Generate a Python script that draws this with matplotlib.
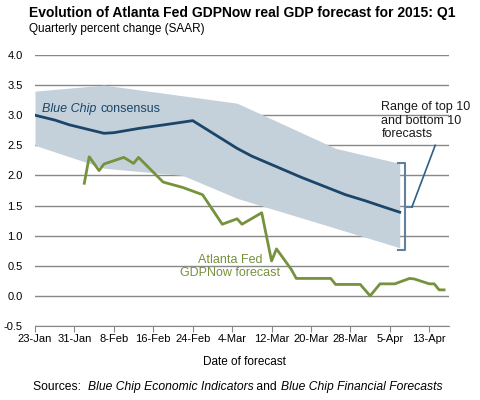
import numpy as np
import pandas as pd
import matplotlib
matplotlib.use("Agg")
import matplotlib.pyplot as plt
import matplotlib.dates as mdates

plt.rcParams['font.family'] = ['Liberation Sans', 'DejaVu Sans']

# Blue Chip consensus (daily path)
bc_dates = ["2015-01-23", "2015-01-27", "2015-01-30", "2015-02-03", "2015-02-06", "2015-02-08",
            "2015-02-13", "2015-02-19", "2015-02-24", "2015-03-05", "2015-03-08", "2015-03-18",
            "2015-03-27", "2015-03-31", "2015-04-04", "2015-04-07"]
bc_values = [3.0, 2.92, 2.84, 2.76, 2.70, 2.71, 2.78, 2.85, 2.91, 2.45, 2.32, 1.97, 1.68, 1.58, 1.47, 1.39]

# top 10 / bottom 10 range
band_top_dates = ["2015-01-23", "2015-02-06", "2015-03-05", "2015-03-25", "2015-04-07"]
band_top = [3.4, 3.5, 3.2, 2.45, 2.2]
band_bot_dates = ["2015-01-23", "2015-02-06", "2015-02-22", "2015-03-05", "2015-04-07"]
band_bot = [2.5, 2.12, 2.0, 1.62, 0.8]

# Atlanta Fed GDPNow
gn_dates = ["2015-02-02", "2015-02-03", "2015-02-05", "2015-02-06", "2015-02-10", "2015-02-12",
            "2015-02-13", "2015-02-18", "2015-02-22", "2015-02-26", "2015-03-02", "2015-03-05",
            "2015-03-06", "2015-03-10", "2015-03-12", "2015-03-13", "2015-03-16", "2015-03-17",
            "2015-03-24", "2015-03-25", "2015-03-30", "2015-04-01", "2015-04-03", "2015-04-06",
            "2015-04-09", "2015-04-10", "2015-04-13", "2015-04-14", "2015-04-15", "2015-04-16"]
gn_values = [1.87, 2.31, 2.08, 2.19, 2.3, 2.2, 2.3, 1.89, 1.8, 1.68, 1.19, 1.28, 1.19, 1.38,
             0.58, 0.78, 0.44, 0.29, 0.29, 0.19, 0.19, 0.0, 0.2, 0.2, 0.29, 0.28, 0.2, 0.2, 0.1, 0.1]

tick_dates = pd.date_range("2015-01-23", "2015-04-13", freq="8D")
y_ticks = np.arange(-0.5, 4.01, 0.5)

bc_x = pd.to_datetime(bc_dates)
gn_x = pd.to_datetime(gn_dates)
top_x = pd.to_datetime(band_top_dates)
bot_x = pd.to_datetime(band_bot_dates)

# common x grid for the band
grid = pd.date_range("2015-01-23", "2015-04-07", freq="D")
gnum = mdates.date2num(grid)
upper = np.interp(gnum, mdates.date2num(top_x), band_top)
lower = np.interp(gnum, mdates.date2num(bot_x), band_bot)

navy = "#1b4569"
green = "#76923c"
gridc = "#888888"

fig = plt.figure(figsize=(4.8, 4.0), dpi=100)
ax = fig.add_axes([35/480, 1-326/400, (449-35)/480, (326-55)/400])

ax.fill_between(grid, lower, upper, color="#c4d1da", lw=0, zorder=1)
for yv in y_ticks:
    ax.axhline(yv, color=gridc, lw=1.0, zorder=0.5)
ax.plot(bc_x, bc_values, color=navy, lw=2, zorder=3)
ax.plot(gn_x, gn_values, color=green, lw=2, zorder=3)

# bracket for range
d = lambda s: mdates.date2num(pd.Timestamp(s))
bx = d("2015-04-08")
bcol = "#5f819d"
ax.plot([d("2015-04-06") + 0.6, bx, bx, d("2015-04-06") + 0.6],
        [2.2, 2.2, 0.77, 0.77], color=bcol, lw=1.5, zorder=4)
ax.plot([bx, bx + 1.5], [1.48, 1.48], color=bcol, lw=1.5, zorder=4)
ax.plot([bx + 1.5, bx + 6.2], [1.48, 2.5], color="#2e5f85", lw=1.2, zorder=4)

ax.text(d("2015-01-24") + 0.4, 3.11, "Blue Chip", style="italic", color=navy, fontsize=9, va="center")
ax.text(d("2015-02-05") + 0.2, 3.11, "consensus", color=navy, fontsize=9, va="center")
ax.text(d("2015-03-04") - 0.4, 0.49, "Atlanta Fed\nGDPNow forecast", color=green, fontsize=9,
        ha="center", va="center", linespacing=1.1)
ax.text(d("2015-04-03") + 0.3, 3.24, "Range of top 10\nand bottom 10\nforecasts", color="#1a1a1a",
        fontsize=9, ha="left", va="top", linespacing=1.2)

ax.set_xlim(pd.Timestamp("2015-01-23"), pd.Timestamp("2015-04-17"))
ax.set_ylim(-0.5, 4.0)
ax.set_yticks(y_ticks)
ax.set_yticklabels([f"{v:.1f}" for v in y_ticks])
ax.set_xticks(tick_dates)
ax.set_xticklabels([f"{t.day}-{t.strftime('%b')}" for t in tick_dates])
ax.tick_params(axis="y", length=0, labelsize=8, pad=9)
ax.tick_params(axis="x", length=4, color=gridc, labelsize=8, pad=2)
for s in ["top", "right", "left"]:
    ax.spines[s].set_visible(False)
ax.spines["bottom"].set_color(gridc)

fig.text(29/480, 1-13/400, "Evolution of Atlanta Fed GDPNow real GDP forecast for 2015: Q1",
         fontsize=10, fontweight="bold", va="center")
fig.text(29/480, 1-29/400, "Quarterly percent change (SAAR)", fontsize=8.5, va="center")
fig.text(244/480, 1-362/400, "Date of forecast", fontsize=8.5, ha="center", va="center")

# sources line with mixed italics, laid out piece by piece
r = fig.canvas.get_renderer()
parts = [("Sources:  ", "normal"), ("Blue Chip Economic Indicators", "italic"), (" and ", "normal"),
         ("Blue Chip Financial Forecasts", "italic")]
xpos = 33
for txt, st in parts:
    tt = fig.text(xpos/480, 1-387/400, txt, fontsize=8.7, style=st, va="center")
    xpos += tt.get_window_extent(r).width

fig.savefig("out.png", dpi=100)
